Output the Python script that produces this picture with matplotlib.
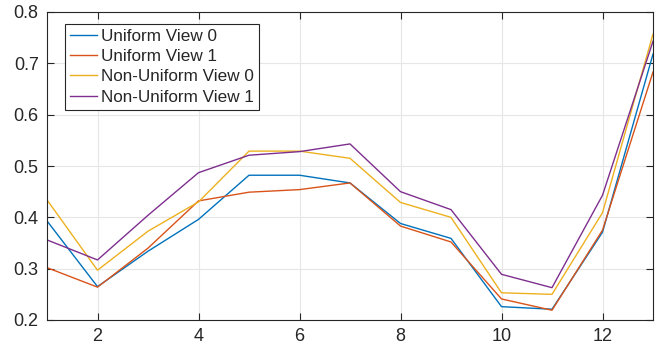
import matplotlib.pyplot as plt
import numpy as np

# x positions (views / samples)
x = np.arange(1, 14)

uniform_view0 = [0.393, 0.265, 0.334, 0.396, 0.482, 0.482, 0.467, 0.388, 0.359, 0.226, 0.221, 0.371, 0.718]
uniform_view1 = [0.302, 0.264, 0.340, 0.432, 0.449, 0.454, 0.467, 0.383, 0.352, 0.241, 0.219, 0.375, 0.683]
nonuniform_view0 = [0.434, 0.297, 0.373, 0.430, 0.529, 0.529, 0.515, 0.429, 0.400, 0.253, 0.250, 0.409, 0.757]
nonuniform_view1 = [0.356, 0.317, 0.404, 0.487, 0.521, 0.528, 0.543, 0.450, 0.415, 0.289, 0.263, 0.443, 0.743]

labels = ["Uniform View 0", "Uniform View 1", "Non-Uniform View 0", "Non-Uniform View 1"]
colors = ["#0072BD", "#D95319", "#EDB120", "#7E2F8E"]

xticks = [2, 4, 6, 8, 10, 12]
yticks = [0.2, 0.3, 0.4, 0.5, 0.6, 0.7, 0.8]

plt.rcParams['font.family'] = ['Liberation Sans', 'DejaVu Sans']
dark = "#262626"

fig = plt.figure(figsize=(6.59, 3.51), dpi=100)
ax = fig.add_axes([47 / 659, 1 - 320 / 351, 606 / 659, 308 / 351])

series = [uniform_view0, uniform_view1, nonuniform_view0, nonuniform_view1]
for s, lab, c in zip(series, labels, colors):
    ax.plot(x, s, color=c, lw=1.0, label=lab)  # one line per series

ax.set_xlim(1, 13)
ax.set_ylim(0.2, 0.8)
ax.set_xticks(xticks)
ax.set_yticks(yticks)
ax.set_yticklabels([f"{v:.1f}" for v in yticks])
ax.grid(True, color="#e6e6e6", lw=0.8)
ax.set_axisbelow(True)
ax.tick_params(direction="in", length=5, width=0.8, top=True, right=True,
               labelsize=13, colors=dark, pad=6)
for sp in ax.spines.values():
    sp.set_color(dark)
    sp.set_linewidth(0.8)

leg = ax.legend(loc="upper left", bbox_to_anchor=(18 / 606, 1 - 12 / 308),
                borderaxespad=0, fontsize=12.3, handlelength=1.55,
                handletextpad=0.25, labelspacing=0.3, borderpad=0.3,
                fancybox=False, framealpha=1)
leg.get_frame().set_edgecolor(dark)
leg.get_frame().set_linewidth(0.8)
for t in leg.get_texts():
    t.set_color(dark)

fig.savefig("out.png", dpi=100)
